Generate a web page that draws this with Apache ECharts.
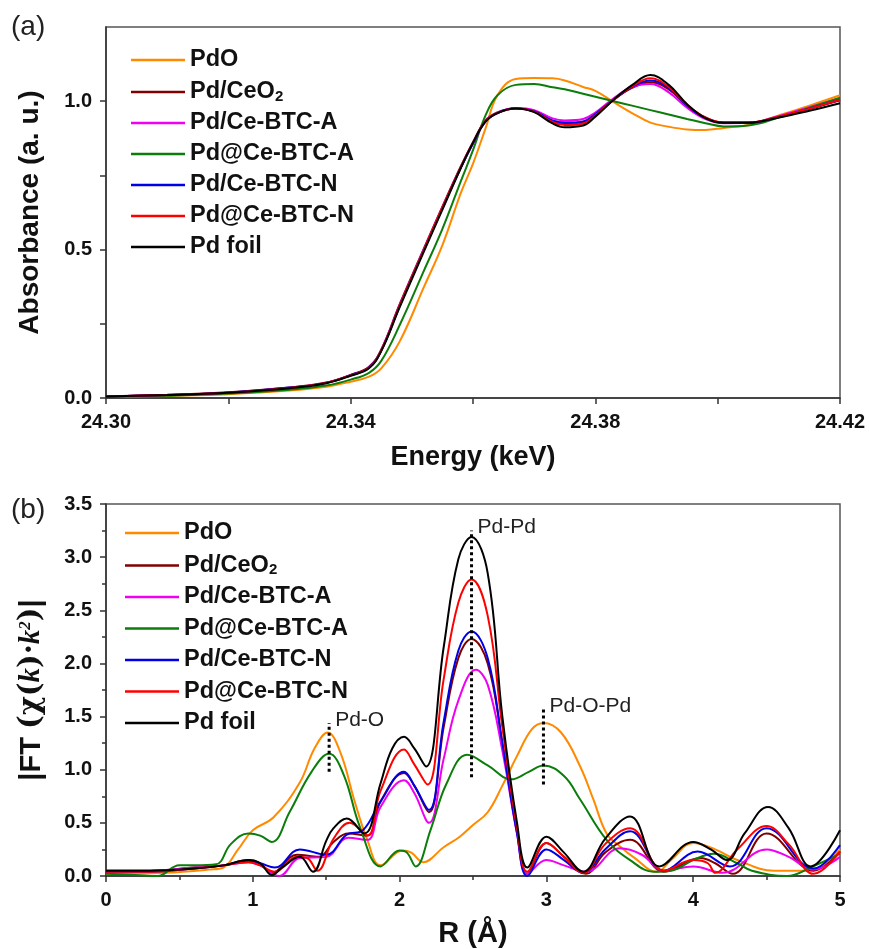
<!DOCTYPE html>
<html>
<head>
<meta charset="utf-8">
<script src="https://cdn.jsdelivr.net/npm/echarts@6/dist/echarts.min.js"></script>
<style>
  html, body { margin: 0; padding: 0; background: #fff; }
  #main { width: 869px; height: 949px; }
</style>
</head>
<body>
<div id="main"></div>
<script>
// ---- data ----
const names = ['PdO', 'Pd/CeO2', 'Pd/Ce-BTC-A', 'Pd@Ce-BTC-A', 'Pd/Ce-BTC-N', 'Pd@Ce-BTC-N', 'Pd foil'];
const colors = ['#ff8a00', '#800000', '#f000f0', '#0b7d0b', '#0000e6', '#ff0000', '#000000'];

// (a) XANES, energy in keV
const energy = [24.300, 24.310, 24.320, 24.330, 24.336, 24.340, 24.343, 24.345, 24.348, 24.352, 24.355, 24.358,
  24.360, 24.362, 24.364, 24.367, 24.370, 24.373, 24.375, 24.378, 24.380, 24.383, 24.386, 24.389,
  24.392, 24.395, 24.398, 24.401, 24.405, 24.410, 24.415, 24.420];
const absPdO = [0.003, 0.007, 0.013, 0.025, 0.038, 0.055, 0.072, 0.100, 0.190, 0.375, 0.515, 0.690,
  0.790, 0.905, 1.020, 1.075, 1.078, 1.077, 1.070, 1.048, 1.035, 0.997, 0.960, 0.928,
  0.914, 0.905, 0.903, 0.910, 0.920, 0.952, 0.985, 1.020];
const absCeO2 = [0.005, 0.011, 0.019, 0.035, 0.052, 0.078, 0.105, 0.163, 0.315, 0.505, 0.645, 0.780,
  0.862, 0.934, 0.962, 0.976, 0.966, 0.933, 0.924, 0.930, 0.955, 1.005, 1.045, 1.064,
  1.040, 0.985, 0.945, 0.928, 0.928, 0.948, 0.975, 1.003];
const absBtcA = [0.005, 0.010, 0.018, 0.034, 0.051, 0.077, 0.103, 0.162, 0.313, 0.503, 0.643, 0.778,
  0.860, 0.932, 0.962, 0.977, 0.970, 0.942, 0.935, 0.940, 0.962, 1.010, 1.048, 1.058,
  1.030, 0.978, 0.940, 0.926, 0.927, 0.950, 0.980, 1.010];
const absAtBtcA = [0.004, 0.008, 0.015, 0.028, 0.042, 0.062, 0.085, 0.125, 0.245, 0.430, 0.570, 0.730,
  0.835, 0.950, 1.020, 1.055, 1.058, 1.047, 1.040, 1.025, 1.015, 1.000, 0.985, 0.970,
  0.955, 0.940, 0.926, 0.915, 0.918, 0.945, 0.978, 1.012];
const absBtcN = [0.005, 0.010, 0.018, 0.035, 0.051, 0.077, 0.103, 0.160, 0.310, 0.500, 0.640, 0.775,
  0.857, 0.930, 0.960, 0.975, 0.966, 0.935, 0.928, 0.932, 0.957, 1.005, 1.048, 1.070,
  1.045, 0.985, 0.943, 0.927, 0.927, 0.947, 0.975, 1.005];
const absAtBtcN = [0.005, 0.010, 0.018, 0.034, 0.051, 0.076, 0.102, 0.160, 0.310, 0.500, 0.642, 0.777,
  0.860, 0.932, 0.960, 0.975, 0.965, 0.930, 0.920, 0.925, 0.952, 1.005, 1.050, 1.077,
  1.048, 0.988, 0.945, 0.928, 0.928, 0.948, 0.975, 1.005];
const absFoil = [0.005, 0.010, 0.018, 0.033, 0.050, 0.075, 0.100, 0.158, 0.305, 0.495, 0.635, 0.775,
  0.860, 0.930, 0.960, 0.975, 0.963, 0.925, 0.912, 0.918, 0.948, 1.005, 1.054, 1.088,
  1.055, 0.990, 0.943, 0.927, 0.927, 0.945, 0.968, 0.993];

// (b) FT-EXAFS, [R, |FT|] pairs
const ftPdO = [[0, 0.02], [0.4, 0.03], [0.7, 0.06], [0.8, 0.08], [0.9, 0.25], [1.0, 0.43], [1.14, 0.55],
  [1.32, 0.88], [1.42, 1.2], [1.51, 1.35], [1.6, 1.15], [1.69, 0.72], [1.78, 0.34], [1.87, 0.1],
  [2.02, 0.24], [2.08, 0.22], [2.16, 0.13], [2.3, 0.27], [2.41, 0.37], [2.5, 0.48], [2.6, 0.6],
  [2.7, 0.85], [2.8, 1.13], [2.9, 1.38], [2.98, 1.44], [3.1, 1.35], [3.23, 1.03], [3.32, 0.72],
  [3.41, 0.40], [3.5, 0.28], [3.6, 0.17], [3.75, 0.04], [3.85, 0.15], [4.0, 0.31], [4.15, 0.25],
  [4.3, 0.15], [4.55, 0.05], [4.8, 0.05], [5.0, 0.25]];
const ftCeO2 = [[0, 0.05], [0.3, 0.05], [0.6, 0.08], [0.8, 0.1], [0.97, 0.15], [1.05, 0.12], [1.13, 0.03],
  [1.3, 0.2], [1.45, 0.18], [1.55, 0.32], [1.65, 0.40], [1.78, 0.38], [1.87, 0.7], [2.03, 0.97],
  [2.1, 0.85], [2.2, 0.60], [2.3, 1.40], [2.4, 2.05], [2.49, 2.23], [2.6, 2.0], [2.7, 1.25],
  [2.8, 0.42], [2.87, 0.02], [3.0, 0.31], [3.12, 0.18], [3.27, 0.02], [3.4, 0.22], [3.57, 0.34],
  [3.8, 0.04], [4.05, 0.17], [4.15, 0.12], [4.27, 0.02], [4.5, 0.40], [4.82, 0.05], [5.0, 0.23]];
const ftBtcA = [[0, 0.05], [0.3, 0.05], [0.6, 0.08], [0.8, 0.1], [0.97, 0.13], [1.05, 0.1], [1.18, 0.0],
  [1.32, 0.17], [1.5, 0.18], [1.65, 0.36], [1.78, 0.34], [1.87, 0.65], [2.03, 0.90], [2.1, 0.78],
  [2.2, 0.50], [2.3, 1.10], [2.4, 1.65], [2.52, 1.94], [2.6, 1.80], [2.7, 1.18], [2.8, 0.40],
  [2.87, 0.02], [3.0, 0.15], [3.12, 0.10], [3.27, 0.04], [3.5, 0.26], [3.65, 0.2], [3.8, 0.05],
  [4.0, 0.09], [4.2, 0.03], [4.5, 0.25], [4.65, 0.18], [4.82, 0.06], [5.0, 0.18]];
const ftAtBtcA = [[0, 0.02], [0.2, 0.01], [0.35, 0.0], [0.5, 0.1], [0.6, 0.1], [0.75, 0.11], [0.85, 0.3],
  [0.97, 0.40], [1.05, 0.38], [1.13, 0.32], [1.25, 0.6], [1.4, 0.98], [1.52, 1.15], [1.62, 0.95],
  [1.73, 0.46], [1.87, 0.09], [2.0, 0.24], [2.05, 0.22], [2.11, 0.09], [2.21, 0.43], [2.32, 0.87],
  [2.46, 1.14], [2.6, 1.04], [2.76, 0.91], [2.88, 0.98], [2.98, 1.04], [3.12, 0.94], [3.23, 0.72],
  [3.41, 0.34], [3.57, 0.15], [3.73, 0.04], [3.85, 0.05], [4.0, 0.15], [4.14, 0.21], [4.3, 0.12],
  [4.4, 0.05], [4.64, 0.0], [4.8, 0.08], [5.0, 0.21]];
const ftBtcN = [[0, 0.04], [0.3, 0.04], [0.6, 0.07], [0.8, 0.1], [0.97, 0.14], [1.05, 0.12], [1.15, 0.08],
  [1.32, 0.25], [1.5, 0.2], [1.64, 0.39], [1.75, 0.43], [1.87, 0.7], [2.03, 0.98], [2.1, 0.85],
  [2.2, 0.62], [2.3, 1.45], [2.4, 2.12], [2.49, 2.30], [2.6, 2.05], [2.7, 1.25], [2.8, 0.4],
  [2.87, 0.0], [3.0, 0.25], [3.12, 0.15], [3.25, 0.03], [3.4, 0.25], [3.57, 0.42], [3.8, 0.05],
  [4.03, 0.23], [4.25, 0.09], [4.5, 0.45], [4.82, 0.07], [5.0, 0.29]];
const ftAtBtcN = [[0, 0.04], [0.3, 0.04], [0.6, 0.07], [0.8, 0.1], [0.97, 0.13], [1.05, 0.1], [1.15, 0.04],
  [1.3, 0.18], [1.37, 0.17], [1.44, 0.05], [1.55, 0.35], [1.66, 0.50], [1.78, 0.38], [1.87, 0.8],
  [2.03, 1.19], [2.1, 1.05], [2.19, 0.86], [2.3, 1.85], [2.4, 2.57], [2.49, 2.79], [2.6, 2.45],
  [2.7, 1.4], [2.8, 0.45], [2.87, 0.04], [3.0, 0.31], [3.12, 0.18], [3.25, 0.03], [3.4, 0.3],
  [3.57, 0.45], [3.8, 0.05], [4.0, 0.15], [4.1, 0.12], [4.15, 0.03], [4.3, 0.25], [4.5, 0.47],
  [4.65, 0.3], [4.82, 0.02], [5.0, 0.23]];
const ftFoil = [[0, 0.05], [0.3, 0.05], [0.6, 0.07], [0.8, 0.1], [0.97, 0.15], [1.05, 0.12], [1.13, 0.01],
  [1.2, 0.08], [1.32, 0.18], [1.41, 0.04], [1.5, 0.33], [1.55, 0.45], [1.64, 0.54], [1.76, 0.40],
  [1.87, 0.87], [1.95, 1.2], [2.03, 1.31], [2.1, 1.2], [2.18, 1.03], [2.3, 2.15], [2.4, 2.98],
  [2.49, 3.19], [2.6, 2.85], [2.7, 1.5], [2.8, 0.5], [2.87, 0.08], [3.0, 0.37], [3.12, 0.22],
  [3.25, 0.04], [3.4, 0.35], [3.57, 0.56], [3.77, 0.09], [4.0, 0.32], [4.12, 0.25], [4.23, 0.15],
  [4.35, 0.40], [4.51, 0.65], [4.65, 0.45], [4.8, 0.09], [5.0, 0.43]];

// peak annotations in (b)
const annoR = [1.52, 2.49, 2.98];
const annoLow = [0.98, 0.93, 0.86];
const annoHigh = [1.44, 3.25, 1.57];
const annoText = ['Pd-O', 'Pd-Pd', 'Pd-O-Pd'];

// tick values
const eLabels = [24.30, 24.34, 24.38, 24.42];
const eTicks = [24.30, 24.32, 24.34, 24.36, 24.38, 24.40, 24.42];
const aLabels = [0, 0.5, 1.0];
const aTicks = [0, 0.25, 0.5, 0.75, 1.0];

const absSets = [absPdO, absCeO2, absBtcA, absAtBtcA, absBtcN, absAtBtcN, absFoil];
const ftSets = [ftPdO, ftCeO2, ftBtcA, ftAtBtcA, ftBtcN, ftAtBtcN, ftFoil];

const FONT = '"Liberation Sans", Arial, sans-serif';
const chart = echarts.init(document.getElementById('main'));

function axisBase() {
  return {
    axisLine: { show: true, lineStyle: { color: '#333', width: 1.5 } },
    axisTick: { show: true, inside: false, length: 6, lineStyle: { color: '#333', width: 1.5 } },
    axisLabel: { color: '#111', fontSize: 20, fontWeight: 'bold', fontFamily: FONT, margin: 14 },
    splitLine: { show: false },
    nameLocation: 'middle',
    nameTextStyle: { color: '#111', fontSize: 27, fontWeight: 'bold', fontFamily: FONT }
  };
}

const legendText = {
  color: '#111', fontSize: 23.5, fontWeight: 'bold', fontFamily: FONT, lineHeight: 24,
  rich: {
    n: { fontSize: 23.5, fontWeight: 'bold', fontFamily: FONT, lineHeight: 24 },
    s: { fontSize: 15, fontWeight: 'bold', fontFamily: FONT, lineHeight: 24, verticalAlign: 'bottom', padding: [10, 0, 0, 0] }
  }
};
function legendFmt(name) {
  return name === 'Pd/CeO2' ? '{n|Pd/CeO}{s|2}' : name;
}

const series = [];
names.forEach(function (n, i) {
  series.push({
    name: n, type: 'line', xAxisIndex: 0, yAxisIndex: 0, symbol: 'none', smooth: 0.4,
    lineStyle: { color: colors[i], width: 2 }, itemStyle: { color: colors[i] },
    data: energy.map(function (e, k) { return [e, absSets[i][k]]; })
  });
});
names.forEach(function (n, i) {
  series.push({
    name: n, type: 'line', xAxisIndex: 1, yAxisIndex: 1, symbol: 'none', smooth: 0.4,
    lineStyle: { color: colors[i], width: 2 }, itemStyle: { color: colors[i] },
    data: ftSets[i]
  });
});

const xa = axisBase();
Object.assign(xa, {
  type: 'value', gridIndex: 0, min: 24.30, max: 24.42, name: 'Energy (keV)', nameGap: 46
});
xa.axisLabel = Object.assign({}, xa.axisLabel, { customValues: eLabels, formatter: function (v) { return v.toFixed(2); } });
xa.axisTick = Object.assign({}, xa.axisTick, { customValues: eTicks });

const ya = axisBase();
Object.assign(ya, {
  type: 'value', gridIndex: 0, min: 0, max: 1.25, name: 'Absorbance (a. u.)', nameGap: 62
});
ya.nameTextStyle = Object.assign({}, ya.nameTextStyle, { fontSize: 28 });
ya.axisLabel = Object.assign({}, ya.axisLabel, { customValues: aLabels, formatter: function (v) { return v.toFixed(1); } });
ya.axisTick = Object.assign({}, ya.axisTick, { customValues: aTicks });

const xb = axisBase();
Object.assign(xb, {
  type: 'value', gridIndex: 1, min: 0, max: 5, interval: 1, name: 'R (Å)', nameGap: 43,
  minorTick: { show: true, splitNumber: 2, length: 4, lineStyle: { color: '#333', width: 1.5 } }
});
xb.nameTextStyle = Object.assign({}, xb.nameTextStyle, { fontSize: 29 });

const yb = axisBase();
Object.assign(yb, {
  type: 'value', gridIndex: 1, min: 0, max: 3.5, interval: 0.5, nameGap: 60,
  name: '|FT {g|(χ(}{i|k}{g|)·}{i|k}{s|2}{g|)}|',
  minorTick: { show: true, splitNumber: 2, length: 4, lineStyle: { color: '#333', width: 1.5 } }
});
yb.axisLabel = Object.assign({}, yb.axisLabel, { formatter: function (v) { return v.toFixed(1); } });
yb.nameTextStyle = Object.assign({}, yb.nameTextStyle, {
  fontSize: 29,
  rich: {
    g: { fontSize: 29, fontFamily: '"DejaVu Serif", "Liberation Serif", serif', color: '#111' },
    i: { fontSize: 29, fontStyle: 'italic', fontWeight: 'bold', fontFamily: '"Liberation Serif", serif', color: '#111' },
    s: { fontSize: 17, fontStyle: 'italic', fontFamily: '"Liberation Serif", serif', color: '#111', verticalAlign: 'top', padding: [0, 0, 12, 0] }
  }
});

const option = {
  backgroundColor: '#fff',
  animation: false,
  grid: [
    { left: 106, right: 29, top: 27, height: 371, show: true, borderColor: '#555', borderWidth: 1.5 },
    { left: 106, right: 29, top: 504, height: 372, show: true, borderColor: '#555', borderWidth: 1.5 }
  ],
  xAxis: [xa, xb],
  yAxis: [ya, yb],
  legend: [
    { data: names, orient: 'vertical', left: 126, top: 43, icon: 'rect', itemWidth: 54, itemHeight: 2.5, itemGap: 7,
      textStyle: legendText, formatter: legendFmt, selectedMode: false },
    { data: names, orient: 'vertical', left: 120, top: 516, icon: 'rect', itemWidth: 54, itemHeight: 2.5, itemGap: 7.5,
      textStyle: legendText, formatter: legendFmt, selectedMode: false }
  ],
  series: series
};
chart.setOption(option);

// panel letters and peak markers placed through the axes
const graphics = [
  { type: 'text', left: 11, top: 13, style: { text: '(a)', fontSize: 28, fontFamily: FONT, fill: '#222' } },
  { type: 'text', left: 11, top: 496, style: { text: '(b)', fontSize: 28, fontFamily: FONT, fill: '#222' } }
];
annoR.forEach(function (r, i) {
  const p1 = chart.convertToPixel({ xAxisIndex: 1, yAxisIndex: 1 }, [r, annoLow[i]]);
  const p2 = chart.convertToPixel({ xAxisIndex: 1, yAxisIndex: 1 }, [r, annoHigh[i]]);
  graphics.push({ type: 'line', z: 100, shape: { x1: p1[0], y1: p1[1], x2: p2[0], y2: p2[1] },
    style: { stroke: '#000', lineWidth: 3, lineDash: [3, 3] } });
  graphics.push({ type: 'text', z: 100, x: p2[0] + 6, y: p2[1] - 3,
    style: { text: annoText[i], fontSize: 21, fontFamily: FONT, fill: '#222', verticalAlign: 'middle', align: 'left' } });
});
chart.setOption({ graphic: graphics });
</script>
</body>
</html>
